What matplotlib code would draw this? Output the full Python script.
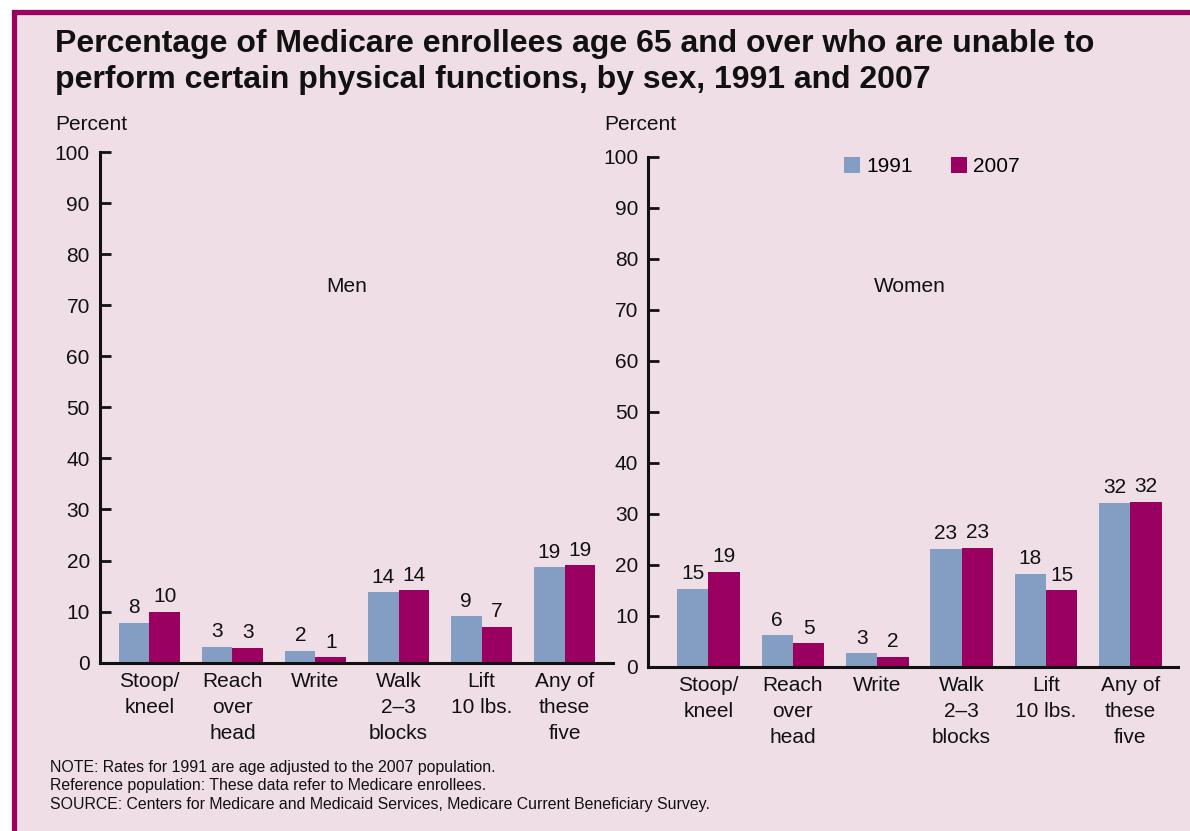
import matplotlib
matplotlib.use('Agg')
import matplotlib.pyplot as plt
from matplotlib.patches import Rectangle
import numpy as np

plt.rcParams['font.family'] = ['Liberation Sans', 'DejaVu Sans']

categories = ['Stoop/\nkneel', 'Reach\nover\nhead', 'Write', 'Walk\n2\u20133\nblocks',
              'Lift\n10 lbs.', 'Any of\nthese\nfive']
years = ['1991', '2007']

men_1991 = [7.8, 3.1, 2.3, 13.8, 9.1, 18.7]
men_2007 = [10.0, 2.9, 1.1, 14.2, 7.0, 19.1]
women_1991 = [15.3, 6.2, 2.6, 23.1, 18.2, 32.1]
women_2007 = [18.6, 4.6, 1.9, 23.3, 15.0, 32.3]

men_labels_1991 = [8, 3, 2, 14, 9, 19]
men_labels_2007 = [10, 3, 1, 14, 7, 19]
women_labels_1991 = [15, 6, 3, 23, 18, 32]
women_labels_2007 = [19, 5, 2, 23, 15, 32]

BG = '#efdee6'
MAGENTA = '#990060'
BLUE = '#849dc2'
INK = '#111111'

W, H = 1190, 831
fig = plt.figure(figsize=(W / 100, H / 100), dpi=100, facecolor='white')

# pink panel with magenta frame (top and left edges visible)
fig.patches.append(Rectangle((13.5 / W, -0.1), 1.2, 1.1 - 11.5 / H,
                             transform=fig.transFigure, facecolor=BG,
                             edgecolor=MAGENTA, linewidth=3.8, zorder=-5))

fig.text(55 / W, 1 - 62 / H,
         'Percentage of Medicare enrollees age 65 and over who are unable to\n'
         'perform certain physical functions, by sex, 1991 and 2007',
         fontsize=23, fontweight='bold', color=INK, va='center', ha='left',
         linespacing=1.3)

FS = 15


def panel(rect, xlim, width, v91, v07, l91, l07, name, name_xy, pct_x):
    ax = fig.add_axes(rect)
    ax.set_facecolor('none')
    x = np.arange(len(categories))
    ax.bar(x - width / 2, v91, width, color=BLUE, label=years[0], zorder=2)
    ax.bar(x + width / 2, v07, width, color=MAGENTA, label=years[1], zorder=2)
    for xi, v, lab in zip(x - width / 2, v91, l91):
        ax.annotate(str(lab), (xi, v), xytext=(0, 4), textcoords='offset points',
                    ha='center', va='bottom', fontsize=FS, color=INK)
    for xi, v, lab in zip(x + width / 2, v07, l07):
        ax.annotate(str(lab), (xi, v), xytext=(0, 4), textcoords='offset points',
                    ha='center', va='bottom', fontsize=FS, color=INK)
    ax.set_xlim(*xlim)
    ax.set_ylim(0, 100)
    ax.set_yticks(range(0, 101, 10))
    ax.tick_params(axis='y', direction='in', length=8, width=2, pad=7,
                   labelsize=FS, colors=INK)
    ax.set_xticks(x)
    ax.set_xticklabels(categories, fontsize=FS, color=INK, linespacing=1.45)
    ax.tick_params(axis='x', length=0, pad=7)
    for s in ['top', 'right']:
        ax.spines[s].set_visible(False)
    for s in ['left', 'bottom']:
        ax.spines[s].set_linewidth(2.2)
        ax.spines[s].set_color(INK)
    fig.text(name_xy[0] / W, 1 - name_xy[1] / H, name, fontsize=FS,
             color=INK, ha='center', va='center')
    fig.text(pct_x / W, 1 - 125 / H, 'Percent', fontsize=FS,
             color=INK, ha='left', va='center')
    return ax


men_ax = panel([99.5 / W, 1 - 662.7 / H, (613 - 99.5) / W, (662.7 - 152) / H],
               (-0.602, 5.584), 0.367, men_1991, men_2007,
               men_labels_1991, men_labels_2007, 'Men', (347, 286), 55)
women_ax = panel([648 / W, 1 - 666.7 / H, (1178 - 648) / W, (666.7 - 156.7) / H],
                 (-0.717, 5.565), 0.371, women_1991, women_2007,
                 women_labels_1991, women_labels_2007, 'Women', (910, 286), 604)

women_ax.legend(loc='upper left', bbox_to_anchor=(181 / 530, 1.0 + 14 / 510), ncol=2,
                frameon=False, fontsize=FS, handlelength=0.8, handleheight=0.8,
                handletextpad=0.3, columnspacing=1.8, borderaxespad=0.3)

notes = ('NOTE: Rates for 1991 are age adjusted to the 2007 population.\n'
         'Reference population: These data refer to Medicare enrollees.\n'
         'SOURCE: Centers for Medicare and Medicaid Services, Medicare Current Beneficiary Survey.')
fig.text(50 / W, 1 - 760 / H, notes, fontsize=11.4, color=INK, ha='left', va='top',
         linespacing=1.28)

fig.savefig('out.png', dpi=100, facecolor='white')
